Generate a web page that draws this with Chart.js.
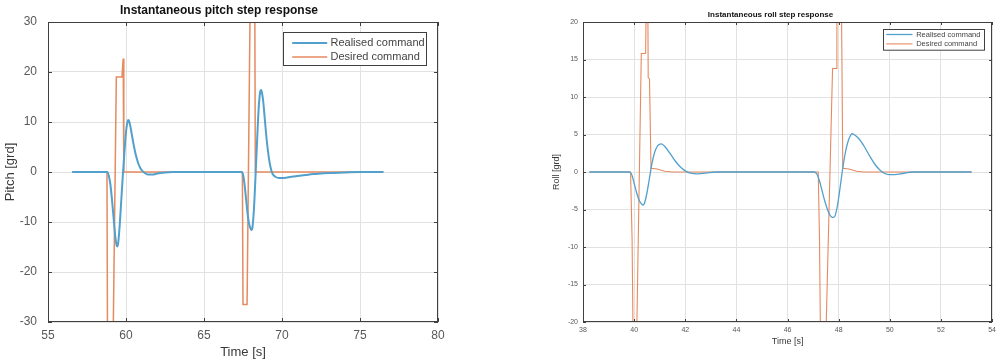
<!DOCTYPE html>
<html>
<head>
<meta charset="utf-8">
<script src="https://cdn.jsdelivr.net/npm/chart.js@4.4.1/dist/chart.umd.min.js"></script>
<style>
  html, body { margin: 0; padding: 0; background: #ffffff; }
  #wrapL { position: absolute; left: 0; top: 0; width: 500px; height: 363px; }
  #wrapR { position: absolute; left: 500px; top: 0; width: 500px; height: 363px; }
</style>
</head>
<body>
<div id="wrapL"><canvas id="pitch" width="500" height="363"></canvas></div>
<div id="wrapR"><canvas id="roll" width="500" height="363"></canvas></div>
<script>
// ---------- DATA ----------
const seriesNames = ['Realised command', 'Desired command'];

// Pitch chart
const pitchRealisedT = [56.55, 58.8, 58.9, 59.0, 59.1, 59.2, 59.3, 59.4, 59.45, 59.5, 59.6, 59.7, 59.8, 59.9, 60.0, 60.1, 60.15, 60.2, 60.3, 60.4, 60.5, 60.6, 60.7, 60.8, 60.9, 61.0, 61.2, 61.4, 61.7, 62.0, 62.5, 63.0, 67.4,
                        67.5, 67.6, 67.7, 67.8, 67.9, 68.0, 68.05, 68.1, 68.2, 68.3, 68.4, 68.5, 68.6, 68.65, 68.7, 68.8, 68.9, 69.0, 69.1, 69.2, 69.3, 69.4, 69.6, 69.8, 70.0, 70.5, 71.0, 71.5, 72.0, 72.5, 73.0, 74.0, 75.0, 76.5];
const pitchRealisedV = [0, 0, -0.8, -2.5, -5.5, -9, -12.5, -14.7, -14.9, -14.2, -10.5, -5.5, -0.5, 4, 8, 10.1, 10.4, 10.2, 8.8, 7, 5.3, 3.8, 2.6, 1.6, 0.9, 0.4, -0.2, -0.5, -0.5, -0.3, -0.1, 0, 0,
                        -0.5, -2.5, -5.5, -8.5, -10.5, -11.4, -11.6, -11.2, -7.5, -1, 6, 12.5, 16, 16.4, 16.1, 14, 10.5, 7, 4.2, 2, 0.5, -0.4, -1.0, -1.2, -1.2, -1.0, -0.8, -0.6, -0.4, -0.3, -0.2, -0.1, 0, 0];
const pitchDesiredT = [56.55, 58.78, 58.82, 59.15, 59.38, 59.74, 59.82, 59.86, 67.46, 67.5, 67.76, 67.98, 68.25, 68.29, 76.5];
const pitchDesiredV = [0, 0, -40, -40, 19, 19, 22.7, 0, 0, -26.5, -26.5, 40, 40, 0, 0];

// Roll chart
const rollRealisedT = [38.25, 39.8, 39.9, 40.0, 40.1, 40.2, 40.3, 40.35, 40.4, 40.5, 40.6, 40.7, 40.8, 40.9, 41.0, 41.05, 41.1, 41.2, 41.4, 41.6, 41.8, 42.0, 42.2, 42.5, 42.8, 43.2, 47.05,
                       47.15, 47.25, 47.35, 47.45, 47.55, 47.65, 47.72, 47.78, 47.85, 47.95, 48.05, 48.15, 48.25, 48.35, 48.45, 48.52, 48.6, 48.8, 49.0, 49.2, 49.4, 49.6, 49.8, 50.0, 50.2, 50.5, 50.9, 53.2];
const rollRealisedV = [0, 0, -0.3, -1.5, -2.8, -3.8, -4.3, -4.4, -4.2, -2.8, -0.8, 1.2, 2.6, 3.4, 3.7, 3.75, 3.7, 3.4, 2.5, 1.5, 0.7, 0.15, -0.15, -0.25, -0.15, 0, 0,
                       -0.3, -1.2, -2.5, -3.8, -4.9, -5.7, -6.0, -6.05, -5.9, -4.5, -2.2, 0.3, 2.4, 3.9, 4.8, 5.1, 5.0, 4.4, 3.4, 2.2, 1.1, 0.3, -0.2, -0.35, -0.35, -0.2, 0, 0];
const rollDesiredT = [38.25, 39.86, 39.92, 39.97, 40.08, 40.28, 40.45, 40.48, 40.53, 40.55, 40.6, 40.66, 40.9, 41.2, 41.5,
                      47.2, 47.25, 47.3, 47.47, 47.76, 47.9, 47.93, 48.1, 48.16, 48.4, 48.7, 49.0, 53.2];
const rollDesiredV = [0, 0, -9, -26, -26, 15.8, 15.8, 26, 26, 12.6, 12.4, 0.5, 0.4, 0.1, 0,
                      0, -9, -26, -26, 13.8, 13.8, 26, 26, 0.5, 0.4, 0.1, 0, 0];

// ---------- helpers ----------
function pts(ts, vs) { return ts.map((t, i) => ({ x: t, y: vs[i] })); }

const FONT = "'Liberation Sans', Arial, Helvetica, sans-serif";
const BLUE = '#52a0cc';
const ORANGE = '#e68a60';
const GRID = '#e2e2e2';
const FRAME = '#404040';
const TICKCOL = '#585858';

const matlabFrame = {
  id: 'matlabFrame',
  afterDatasetsDraw(chart, args, o) {
    const { ctx, chartArea: a } = chart;
    const xs = chart.scales.x, ys = chart.scales.y;
    ctx.save();
    ctx.strokeStyle = FRAME;
    ctx.lineWidth = 1;
    ctx.strokeRect(Math.round(a.left) + 0.5, Math.round(a.top) + 0.5, Math.round(a.width) - 1, Math.round(a.height) - 1);
    const L = o.tick;
    ctx.beginPath();
    xs.ticks.forEach(t => {
      const p = Math.round(xs.getPixelForValue(t.value)) + 0.5;
      ctx.moveTo(p, a.bottom); ctx.lineTo(p, a.bottom - L);
      ctx.moveTo(p, a.top); ctx.lineTo(p, a.top + L);
    });
    ys.ticks.forEach(t => {
      const p = Math.round(ys.getPixelForValue(t.value)) + 0.5;
      ctx.moveTo(a.left, p); ctx.lineTo(a.left + L, p);
      ctx.moveTo(a.right, p); ctx.lineTo(a.right - L, p);
    });
    ctx.stroke();

    // legend box (MATLAB style, inside the axes, north-east)
    const g = o.legend;
    const bx = Math.round(a.right - g.right - g.w) + 0.5;
    const by = Math.round(a.top + g.top) + 0.5;
    ctx.fillStyle = '#ffffff';
    ctx.fillRect(bx, by, g.w, g.h);
    ctx.strokeStyle = FRAME;
    ctx.lineWidth = 1;
    ctx.strokeRect(bx, by, g.w, g.h);
    ctx.font = g.font + 'px ' + FONT;
    ctx.textBaseline = 'middle';
    ctx.textAlign = 'left';
    chart.data.datasets.forEach((ds, i) => {
      const yy = by + g.rows[i];
      ctx.strokeStyle = ds.borderColor;
      ctx.lineWidth = ds.borderWidth;
      ctx.beginPath();
      ctx.moveTo(bx + g.lineX, yy); ctx.lineTo(bx + g.lineX + g.lineLen, yy);
      ctx.stroke();
      ctx.fillStyle = '#444444';
      ctx.fillText(ds.label, bx + g.textX, yy);
    });
    ctx.restore();
  }
};

function makeChart(id, cfg) {
  return new Chart(document.getElementById(id), {
    type: 'line',
    data: {
      datasets: [
        { label: seriesNames[0], data: pts(cfg.rT, cfg.rV), borderColor: BLUE, borderWidth: cfg.lw1,
          pointRadius: 0, cubicInterpolationMode: 'monotone', clip: 0, fill: false },
        { label: seriesNames[1], data: pts(cfg.dT, cfg.dV), borderColor: ORANGE, borderWidth: cfg.lw2,
          pointRadius: 0, tension: 0, clip: 0, fill: false }
      ]
    },
    options: {
      responsive: false,
      animation: false,
      events: [],
      layout: { padding: { left: cfg.padL, right: cfg.padR, top: 0, bottom: 0 } },
      plugins: {
        legend: { display: false },
        tooltip: { enabled: false },
        title: {
          display: true, text: cfg.title, color: '#111111',
          font: { family: FONT, size: cfg.titleSize, weight: 'bold' },
          padding: { top: cfg.titlePadT, bottom: cfg.titlePadB }
        },
        matlabFrame: { tick: cfg.tick, legend: cfg.legend }
      },
      scales: {
        x: {
          type: 'linear', min: cfg.xMin, max: cfg.xMax,
          afterFit: s => { s.height = 41; },
          ticks: { stepSize: cfg.xStep, color: TICKCOL, font: { family: FONT, size: cfg.tickSize }, padding: cfg.xTickPad, maxRotation: 0, autoSkip: false },
          grid: { color: GRID, drawTicks: false, lineWidth: 1 },
          border: { display: false },
          title: { display: true, text: 'Time [s]', color: '#383838', font: { family: FONT, size: cfg.axTitleSize }, padding: { top: 0, bottom: cfg.xTitlePadB } }
        },
        y: {
          type: 'linear', min: cfg.yMin, max: cfg.yMax,
          afterFit: s => { s.width = cfg.yW; },
          ticks: { stepSize: cfg.yStep, color: TICKCOL, font: { family: FONT, size: cfg.tickSize }, padding: cfg.yTickPad, autoSkip: false },
          grid: { color: GRID, drawTicks: false, lineWidth: 1 },
          border: { display: false },
          title: { display: true, text: cfg.yTitle, color: '#383838', font: { family: FONT, size: cfg.axTitleSize }, padding: { top: cfg.yTitlePadT, bottom: 0 } }
        }
      }
    },
    plugins: [matlabFrame]
  });
}

makeChart('pitch', {
  rT: pitchRealisedT, rV: pitchRealisedV, dT: pitchDesiredT, dV: pitchDesiredV,
  title: 'Instantaneous pitch step response', yTitle: 'Pitch [grd]',
  xMin: 55, xMax: 80, xStep: 5, yMin: -30, yMax: 30, yStep: 10,
  padL: 0, padR: 62, yW: 48,
  titleSize: 12, titlePadT: 3.5, titlePadB: 4.1,
  tickSize: 12, axTitleSize: 13, xTickPad: 6, xTitlePadB: 2.5, yTickPad: 11, yTitlePadT: 2.2,
  lw1: 2, lw2: 1.5, tick: 4,
  legend: { right: 12, top: 10, w: 143, h: 33, lineX: 8.7, lineLen: 35, textX: 47, rows: [10.4, 24.4], font: 11 }
});

makeChart('roll', {
  rT: rollRealisedT, rV: rollRealisedV, dT: rollDesiredT, dV: rollDesiredV,
  title: 'Instantaneous roll step response', yTitle: 'Roll [grd]',
  xMin: 38, xMax: 54, xStep: 2, yMin: -20, yMax: 20, yStep: 5,
  padL: 48, padR: 7, yW: 35,
  titleSize: 8, titlePadT: 9.9, titlePadB: 2.5,
  tickSize: 7, axTitleSize: 9, xTickPad: 4, xTitlePadB: 15.9, yTickPad: 5, yTitlePadT: 3.3,
  lw1: 1.3, lw2: 1.1, tick: 3,
  legend: { right: 8, top: 7.3, w: 101, h: 20.7, lineX: 2.7, lineLen: 26.3, textX: 32.7, rows: [5, 14.4], font: 7.5 }
});
</script>
</body>
</html>
